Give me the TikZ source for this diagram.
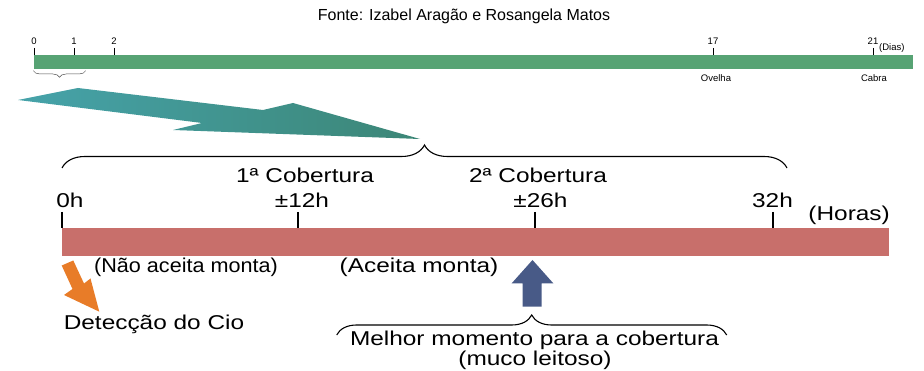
\documentclass[tikz,border=0pt]{standalone}
\usepackage{fontspec}
\setmainfont{Liberation Sans}
\newfontfamily\widefont[FakeStretch=1.22]{Liberation Sans}
\newfontfamily\semiwidefont[FakeStretch=1.08]{Liberation Sans}
\usetikzlibrary{decorations.pathreplacing}
\definecolor{barG}{RGB}{87,163,116}
\definecolor{barR}{RGB}{200,111,107}
\definecolor{tealL}{RGB}{70,163,170}
\definecolor{tealR}{RGB}{60,134,118}
\definecolor{arrO}{RGB}{232,124,40}
\definecolor{arrB}{RGB}{72,90,135}
\newcommand\mainfnt{\widefont\fontsize{20}{24}\selectfont}
\newcommand\narrowfnt{\semiwidefont\fontsize{20}{24}\selectfont}
\tikzset{
  mainlbl/.style={font=\mainfnt, inner sep=0pt, anchor=base},
  smalllbl/.style={font=\fontsize{9.5}{11}\selectfont, inner sep=0pt},
  titlelbl/.style={font=\fontsize{16}{19}\selectfont, inner sep=0pt},
  tickG/.style={line width=1pt},
  tickR/.style={line width=1.1pt},
  bigbrace/.style={decorate, decoration={brace, amplitude=#1}, line width=1.1pt},
  smallbrace/.style={decorate, decoration={brace, amplitude=#1}, line width=0.5pt, draw=black!70}
}
\begin{document}
\begin{tikzpicture}[x=1pt,y=-1pt]
\useasboundingbox (0,0) rectangle (924,371);
% title
\node[titlelbl] (title) at (464,16) {Fonte: Izabel Aragão e Rosangela Matos};
% green bar
\fill[barG] (34,55) rectangle (913,69);
\foreach \x/\t/\n in {34/0/d0, 74/1/d1, 114/2/d2, 713/17/d17, 873/21/d21} {
  \draw[tickG] (\x,48) -- (\x,55);
  \node[smalllbl] (\n) at (\x,41.5) {\t};
}
\node[smalllbl, anchor=west] (dias) at (879,48) {(Dias)};
\node[smalllbl] (ovelha) at (716,78) {Ovelha};
\node[smalllbl] (cabra) at (874,78) {Cabra};
\coordinate (sbR) at (85.7,70.7);
\coordinate (sbL) at (33.3,70.7);
\draw[smallbrace=6.6pt] (sbR) -- (sbL);
% teal arrow
\shade[left color=tealL, right color=tealR]
  (18,100) -- (78,88) -- (263,110) -- (293,103) -- (420,139) -- (173,130) -- (202,123) -- cycle;
% big brace
\coordinate (bbL) at (62,168);
\coordinate (bbR) at (787,168);
\draw[bigbrace=23pt] (bbL) -- (bbR);
\node[mainlbl] (cob1) at (305,183) {1ª Cobertura};
\node[mainlbl] (cob2) at (538,183) {2ª Cobertura};
% red bar
\fill[barR] (62,228) rectangle (889,256);
\foreach \x in {62,298,535,773} {\draw[tickR] (\x,212) -- (\x,228);}
\node[mainlbl] (h0) at (70,208) {0h};
\node[mainlbl] (h12) at (302,208) {±12h};
\node[mainlbl] (h26) at (540.5,208) {±26h};
\node[mainlbl] (h32) at (772.5,208) {32h};
\node[mainlbl, anchor=base east] (horas) at (890,221) {(Horas)};
\node[mainlbl, font=\narrowfnt] (nao) at (186,273) {(Não aceita monta)};
\node[mainlbl] (aceita) at (419,273) {(Aceita monta)};
% orange arrow
\fill[arrO] (61.7,265.5) -- (73.3,260.5) -- (84,283.5) -- (90.5,278.5) -- (99.3,311.7) -- (64,295) -- (72.5,289) -- cycle;
\node[mainlbl] (cio) at (154,330) {Detecção do Cio};
% blue arrow
\fill[arrB] (532.5,260) -- (553.3,283.3) -- (541.7,283.3) -- (541.7,306.7) -- (522.7,306.7) -- (522.7,283.3) -- (511.7,283.3) -- cycle;
% lower brace
\coordinate (lbL) at (336.7,335);
\coordinate (lbR) at (726.7,335);
\draw[bigbrace=20pt] (lbL) -- (lbR);
\node[mainlbl] (melhor) at (534.5,345.5) {Melhor momento para a cobertura};
\node[mainlbl] (muco) at (535,366) {(muco leitoso)};
\end{tikzpicture}
\end{document}
